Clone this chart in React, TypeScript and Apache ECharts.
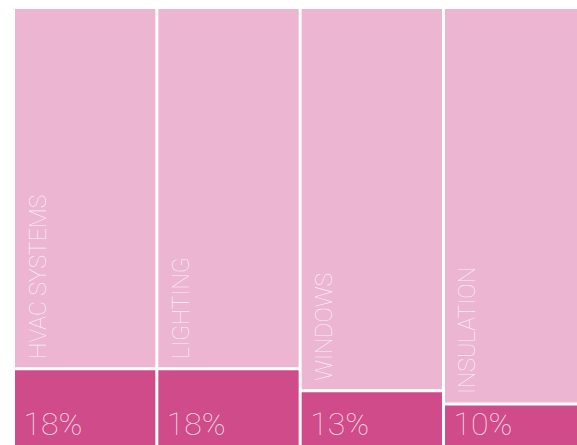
import React, { useEffect, useRef } from "react";
import * as echarts from "echarts";

const categories = ["HVAC SYSTEMS", "LIGHTING", "WINDOWS", "INSULATION"];
const shares = [18, 18, 13, 10];
const remainder = shares.map((v) => 100 - v);

export default function App() {
  const ref = useRef<HTMLDivElement>(null);
  useEffect(() => {
    if (!ref.current) return;
    const chart = echarts.init(ref.current, undefined, { renderer: "svg" });
    const textColor = "rgba(255,255,255,0.8)";
    chart.setOption({
      animation: false,
      grid: { left: 13.5, top: 7.5, right: 3.2, bottom: 0, containLabel: false },
      xAxis: { type: "category", data: categories, show: false },
      yAxis: { type: "value", min: 0, max: 100, show: false },
      series: [
        {
          type: "bar",
          stack: "t",
          data: shares,
          barCategoryGap: 0,
          itemStyle: { color: "#d04b8a", borderColor: "#ffffff", borderWidth: 1.5 },
          label: {
            show: true,
            position: [10, "100%"],
            align: "left",
            verticalAlign: "bottom",
            offset: [0, -8],
            formatter: (p: any) => p.value + "%",
            fontFamily: "Roboto",
            fontWeight: 100,
            fontSize: 32,
            color: textColor,
          },
        },
        {
          type: "bar",
          stack: "t",
          data: remainder,
          barCategoryGap: 0,
          itemStyle: { color: "#ecb5d1", borderColor: "#ffffff", borderWidth: 1.5 },
          label: {
            show: true,
            position: [13, "100%"],
            rotate: 90,
            align: "left",
            verticalAlign: "top",
            offset: [10, 0],
            formatter: (p: any) => p.name,
            fontFamily: "Roboto",
            fontWeight: 100,
            fontSize: 23,
            color: textColor,
          },
        },
      ],
    });
    return () => chart.dispose();
  }, []);
  return (
    <div style={{ position: "fixed", left: 0, top: 0, width: 577, height: 445, overflow: "hidden", background: "#fff" }}>
      <div ref={ref} style={{ width: 590, height: 448 }} />
    </div>
  );
}
